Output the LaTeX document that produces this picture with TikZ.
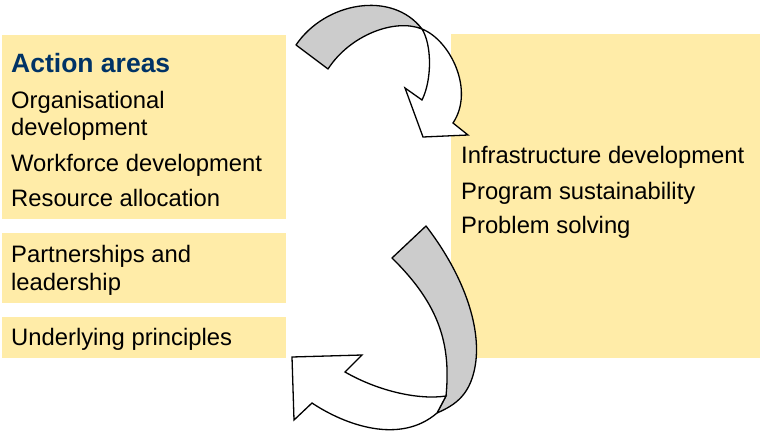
\documentclass[tikz,border=0pt]{standalone}
\usepackage{fontspec}
\setmainfont{Liberation Sans}
\definecolor{panel}{RGB}{255,236,168}
\definecolor{headblue}{RGB}{0,51,102}
\definecolor{bandgray}{RGB}{204,204,204}
\begin{document}
\begin{tikzpicture}[x=1pt,y=-1pt,
  panelbox/.style={fill=panel,draw=none},
  item/.style={anchor=base west,inner sep=0pt,font=\fontsize{23.8}{27}\selectfont,text=black},
  heading/.style={anchor=base west,inner sep=0pt,font=\fontsize{26.5}{29}\selectfont\bfseries,text=headblue},
  band/.style={fill=bandgray,draw=black,line width=1.3pt,line join=round},
  blade/.style={fill=white,draw=black,line width=1.3pt,line join=miter}]
\useasboundingbox (0,0) rectangle (760,434);

% yellow panels
\path[panelbox] (2,35) rectangle (286,219);
\path[panelbox] (2,233) rectangle (286,303);
\path[panelbox] (2,317) rectangle (286,358);
\path[panelbox] (451,34) rectangle (760,358);

% left column texts
\node[heading] (head) at (11,72.5) {Action areas};
\node[item] (org1) at (11,108.5) {Organisational};
\node[item] (org2) at (11,135) {development};
\node[item] (work) at (11,171) {Workforce development};
\node[item] (res) at (11,206) {Resource allocation};
\node[item] (part1) at (11,262.5) {Partnerships and};
\node[item] (part2) at (11,290.5) {leadership};
\node[item] (under) at (11,345) {Underlying principles};

% right column texts
\node[item] (infra) at (461,163.3) {Infrastructure development};
\node[item] (prog) at (461,199) {Program sustainability};
\node[item] (prob) at (461,233.3) {Problem solving};

% upper curved arrow: grey band twisting into a white head
\coordinate (ta) at (296,45);
\coordinate (tb) at (328,69);
\coordinate (tw) at (422,29);
\draw[band] (ta) .. controls (325,2) and (392,-10) .. (tw)
  .. controls (395,18) and (350,35) .. (tb) -- cycle;
\draw[blade] (tw) .. controls (450,40) and (475,90) .. (453,123)
  -- (468,135) -- (423,137) -- (405,88) -- (422,100)
  .. controls (432,80) and (432,45) .. (tw) -- cycle;

% lower curved arrow: grey band twisting into a white head
\coordinate (ba) at (392,258);
\coordinate (bb) at (426,226);
\coordinate (bu) at (446,396);
\coordinate (bl) at (437,413);
\draw[band] (ba) -- (bb) .. controls (460,270) and (480,320) .. (476,360)
  .. controls (472,395) and (455,405) .. (bl) -- (bu)
  .. controls (451,345) and (440,305) .. (ba) -- cycle;
\draw[blade] (bu) .. controls (420,400) and (380,392) .. (345,372)
  -- (362,355) -- (292,357) -- (294,420) -- (312,403)
  .. controls (345,425) and (400,445) .. (bl) -- cycle;
\end{tikzpicture}
\end{document}
